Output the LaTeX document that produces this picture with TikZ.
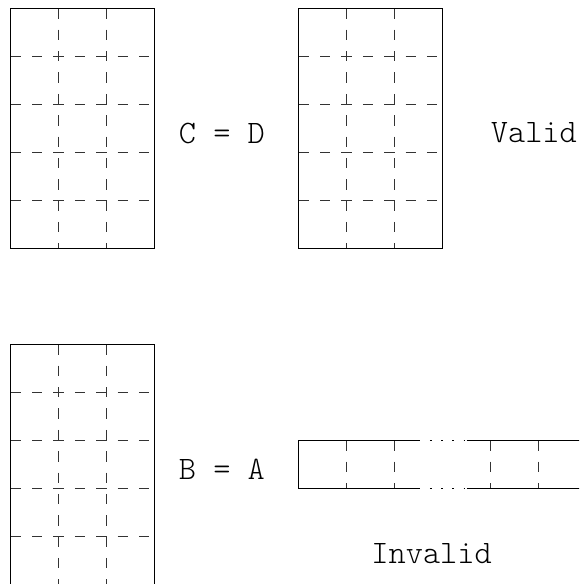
\documentclass[tikz,border=0pt]{standalone}
\usepackage{fontspec}
\usepackage{tikz}
\usetikzlibrary{positioning}
\tikzstyle{frame} = [line width=0.45pt, draw=black]
\tikzstyle{cellline} = [line width=0.45pt, draw=black!80, dash pattern=on 3.7pt off 3.9pt]
\tikzstyle{gapline} = [line width=0.45pt, draw=black, dash pattern=on 0.6pt off 3.4pt]
\tikzstyle{tag} = [inner sep=0pt, font=\ttfamily\fontseries{l}\fontsize{11.65}{14}\selectfont]

\begin{document}
\begin{tikzpicture}[x=0.6cm, y=0.6cm]
        \useasboundingbox (-0.223,0.173) rectangle (11.84,-11.994);
        \clip (-0.223,0.173) rectangle (11.84,-11.98);

        % the three 3x5 blocks
        \foreach \ox/\oy in {0/0, 6/0, 0/-7} {
            \foreach \y in {1,...,4}
                \draw [cellline] (\ox,\oy-\y) -- (\ox+3,\oy-\y);
            \foreach \x in {1,2}
                \draw [cellline] (\ox+\x,\oy) -- (\ox+\x,\oy-5);
            \draw [frame] (\ox,\oy) rectangle (\ox+3,\oy-5);
        }

        % the long row
        \foreach \x in {7,8,10,11,12}
            \draw [cellline] (\x,-9) -- (\x,-10);
        \draw [frame] (8.5,-9) -- (6,-9) -- (6,-10) -- (8.5,-10);
        \draw [frame] (9.5,-9) -- (12.5,-9);
        \draw [frame] (9.5,-10) -- (12.5,-10);
        \draw [gapline] (8.5,-9) -- (9.5,-9);
        \draw [gapline] (8.5,-10) -- (9.5,-10);

        \node (eqCD) [tag] at (4.4,-2.6) {C = D};
        \node (valid) [tag] at (10.9,-2.6) {Valid};
        \node (eqBA) [tag] at (4.4,-9.6) {B = A};
        \node (invalid) [tag] at (8.77,-11.35) {Invalid};
    \end{tikzpicture}
\end{document}
